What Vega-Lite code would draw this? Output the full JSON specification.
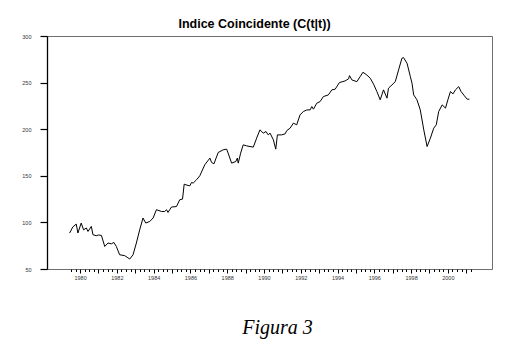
{
  "$schema": "https://vega.github.io/schema/vega-lite/v6.json",
  "width": 445,
  "height": 233,
  "autosize": {"type": "none"},
  "padding": {"left": 47, "top": 36, "right": 37, "bottom": 82},
  "background": "white",
  "view": {"stroke": "#6e6e6e", "strokeWidth": 1},
  "title": {
    "text": "Indice Coincidente (C(t|t))",
    "font": "Liberation Sans",
    "fontSize": 12.5,
    "fontWeight": "bold",
    "color": "black",
    "anchor": "middle",
    "dx": -15,
    "offset": 4
  },
  "data": {
    "values": [
      {"t": 1979.43, "c": 88.6}, {"t": 1979.6, "c": 95}, {"t": 1979.79, "c": 98.2}, {"t": 1979.88, "c": 88.6},
      {"t": 1980.06, "c": 99.3}, {"t": 1980.19, "c": 92}, {"t": 1980.34, "c": 94}, {"t": 1980.43, "c": 90.3},
      {"t": 1980.61, "c": 95.7}, {"t": 1980.7, "c": 86.8}, {"t": 1980.88, "c": 85.7}, {"t": 1981.0, "c": 86.5},
      {"t": 1981.16, "c": 86}, {"t": 1981.34, "c": 74.2}, {"t": 1981.52, "c": 77.9}, {"t": 1981.7, "c": 77},
      {"t": 1981.84, "c": 78.5}, {"t": 1981.97, "c": 74.2}, {"t": 1982.15, "c": 65.3}, {"t": 1982.43, "c": 64.3},
      {"t": 1982.6, "c": 62}, {"t": 1982.7, "c": 60.7}, {"t": 1982.88, "c": 65.3}, {"t": 1983.06, "c": 77.9},
      {"t": 1983.24, "c": 92}, {"t": 1983.42, "c": 104.7}, {"t": 1983.57, "c": 99.3}, {"t": 1983.79, "c": 101},
      {"t": 1983.97, "c": 104.7}, {"t": 1984.15, "c": 113.6}, {"t": 1984.43, "c": 111.7}, {"t": 1984.6, "c": 111.7},
      {"t": 1984.7, "c": 113.6}, {"t": 1984.78, "c": 110.7}, {"t": 1984.97, "c": 116.5}, {"t": 1985.24, "c": 117},
      {"t": 1985.42, "c": 124.3}, {"t": 1985.57, "c": 125}, {"t": 1985.66, "c": 141}, {"t": 1985.87, "c": 139.6},
      {"t": 1985.97, "c": 139.3}, {"t": 1986.06, "c": 142.8}, {"t": 1986.15, "c": 142.2}, {"t": 1986.33, "c": 145.7},
      {"t": 1986.51, "c": 150}, {"t": 1986.78, "c": 161.8}, {"t": 1987.06, "c": 169}, {"t": 1987.15, "c": 164.3},
      {"t": 1987.28, "c": 162.9}, {"t": 1987.51, "c": 175}, {"t": 1987.78, "c": 177.9}, {"t": 1987.97, "c": 178.6},
      {"t": 1988.05, "c": 174.3}, {"t": 1988.24, "c": 163.6}, {"t": 1988.47, "c": 165.3}, {"t": 1988.55, "c": 169},
      {"t": 1988.6, "c": 163.6}, {"t": 1988.73, "c": 174.3}, {"t": 1988.87, "c": 183.2}, {"t": 1989.06, "c": 182.1},
      {"t": 1989.24, "c": 181.4}, {"t": 1989.42, "c": 180.8}, {"t": 1989.6, "c": 190.4}, {"t": 1989.78, "c": 199.3},
      {"t": 1989.96, "c": 195.8}, {"t": 1990.11, "c": 197.5}, {"t": 1990.23, "c": 193.9}, {"t": 1990.33, "c": 195.8},
      {"t": 1990.51, "c": 188.6}, {"t": 1990.64, "c": 178.6}, {"t": 1990.73, "c": 193.9}, {"t": 1990.96, "c": 193.9},
      {"t": 1991.15, "c": 195}, {"t": 1991.24, "c": 198.5}, {"t": 1991.42, "c": 201.1}, {"t": 1991.6, "c": 206.5},
      {"t": 1991.78, "c": 204.7}, {"t": 1991.96, "c": 215.4}, {"t": 1992.14, "c": 218.9}, {"t": 1992.33, "c": 220.7},
      {"t": 1992.51, "c": 220.7}, {"t": 1992.6, "c": 224.3}, {"t": 1992.69, "c": 221.5}, {"t": 1992.87, "c": 227.9},
      {"t": 1993.05, "c": 229.6}, {"t": 1993.23, "c": 235}, {"t": 1993.5, "c": 236.8}, {"t": 1993.69, "c": 242.2},
      {"t": 1993.87, "c": 242.9}, {"t": 1994.1, "c": 250}, {"t": 1994.41, "c": 251.8}, {"t": 1994.6, "c": 254},
      {"t": 1994.65, "c": 257.5}, {"t": 1994.78, "c": 252.9}, {"t": 1995.05, "c": 251}, {"t": 1995.23, "c": 256.4},
      {"t": 1995.38, "c": 261.1}, {"t": 1995.59, "c": 258.2}, {"t": 1995.78, "c": 254.7}, {"t": 1995.96, "c": 248.3},
      {"t": 1996.14, "c": 240.4}, {"t": 1996.32, "c": 231.5}, {"t": 1996.5, "c": 242.2}, {"t": 1996.69, "c": 233.3},
      {"t": 1996.77, "c": 244}, {"t": 1996.96, "c": 247.5}, {"t": 1997.14, "c": 251}, {"t": 1997.32, "c": 263.6},
      {"t": 1997.5, "c": 276.1}, {"t": 1997.59, "c": 276.8}, {"t": 1997.78, "c": 270.8}, {"t": 1997.96, "c": 256.4},
      {"t": 1998.05, "c": 249.4}, {"t": 1998.14, "c": 236.8}, {"t": 1998.32, "c": 231.5}, {"t": 1998.5, "c": 220.7},
      {"t": 1998.69, "c": 199.3}, {"t": 1998.87, "c": 181.4}, {"t": 1999.05, "c": 190.4}, {"t": 1999.23, "c": 201.1},
      {"t": 1999.37, "c": 204.7}, {"t": 1999.5, "c": 218.9}, {"t": 1999.69, "c": 226.1}, {"t": 1999.87, "c": 222.6},
      {"t": 2000.01, "c": 232.2}, {"t": 2000.14, "c": 240.4}, {"t": 2000.28, "c": 237.9}, {"t": 2000.41, "c": 242.2},
      {"t": 2000.59, "c": 245.7}, {"t": 2000.72, "c": 240.4}, {"t": 2000.9, "c": 235.8}, {"t": 2001.05, "c": 232.2},
      {"t": 2001.17, "c": 232.2}
    ]
  },
  "mark": {"type": "line", "color": "black", "strokeWidth": 1, "interpolate": "linear"},
  "encoding": {
    "x": {
      "field": "t",
      "type": "quantitative",
      "scale": {"domain": [1978.2, 2002.4], "nice": false, "zero": false},
      "axis": {
        "title": "Figura 3",
        "titleFont": "Liberation Serif",
        "titleFontStyle": "italic",
        "titleFontWeight": "normal",
        "titleFontSize": 20,
        "titleColor": "black",
        "titleX": 230,
        "titleY": 64,
        "titleAlign": "center",
        "titleBaseline": "alphabetic",
        "domain": false,
        "grid": false,
        "values": [1979.5, 1979.75, 1980, 1980.25, 1980.5, 1980.75, 1981, 1981.25, 1981.5, 1981.75, 1982, 1982.25, 1982.5, 1982.75, 1983, 1983.25, 1983.5, 1983.75, 1984, 1984.25, 1984.5, 1984.75, 1985, 1985.25, 1985.5, 1985.75, 1986, 1986.25, 1986.5, 1986.75, 1987, 1987.25, 1987.5, 1987.75, 1988, 1988.25, 1988.5, 1988.75, 1989, 1989.25, 1989.5, 1989.75, 1990, 1990.25, 1990.5, 1990.75, 1991, 1991.25, 1991.5, 1991.75, 1992, 1992.25, 1992.5, 1992.75, 1993, 1993.25, 1993.5, 1993.75, 1994, 1994.25, 1994.5, 1994.75, 1995, 1995.25, 1995.5, 1995.75, 1996, 1996.25, 1996.5, 1996.75, 1997, 1997.25, 1997.5, 1997.75, 1998, 1998.25, 1998.5, 1998.75, 1999, 1999.25, 1999.5, 1999.75, 2000, 2000.25, 2000.5, 2000.75, 2001, 2001.25],
        "labelExpr": "datum.value % 2 === 0 ? '' + datum.value : ''",
        "labelFont": "Liberation Sans",
        "labelFontSize": 5.5,
        "labelColor": "#333",
        "labelPadding": 2,
        "labelOverlap": false,
        "labelFlush": false,
        "tickColor": "black",
        "tickWidth": 1,
        "tickSize": {"condition": {"test": "datum.value % 1 === 0", "value": 4}, "value": 2.5}
      }
    },
    "y": {
      "field": "c",
      "type": "quantitative",
      "scale": {"domain": [50, 300], "nice": false, "zero": false},
      "axis": {
        "title": null,
        "values": [50, 100, 150, 200, 250, 300],
        "grid": false,
        "domain": true,
        "domainColor": "black",
        "domainWidth": 1.3,
        "tickColor": "black",
        "tickWidth": 1.2,
        "tickSize": 7,
        "labelFont": "Liberation Sans",
        "labelFontSize": 5.5,
        "labelColor": "#333",
        "labelPadding": 9,
        "labelFlush": false
      }
    }
  }
}
